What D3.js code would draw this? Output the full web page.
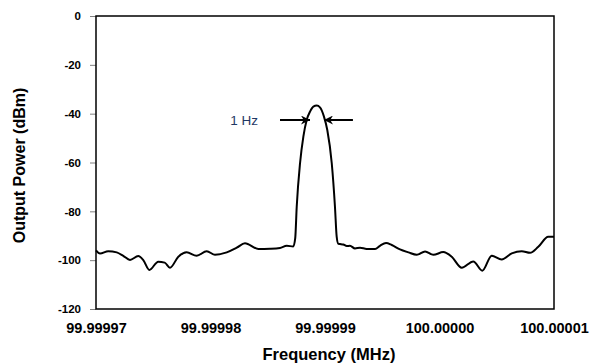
<!DOCTYPE html>
<html>
<head>
<meta charset="utf-8">
<script src="https://cdn.jsdelivr.net/npm/d3@7"></script>
<style>
  body { margin: 0; background: #fff; }
</style>
</head>
<body>
<div id="spectrum_chart"></div>
<script>
// frequency offset from 100 MHz in Hz, and measured power in dBm
var freqOffsetHz = [-30.00, -29.65, -28.93, -28.19, -27.62, -27.03, -26.31, -25.87, -25.34, -24.56,
  -24.00, -23.54, -22.81, -22.08, -21.21, -20.33, -19.61, -18.58, -17.71, -16.99,
  -15.82, -14.80, -13.93, -13.34, -12.77, -12.60, -12.47, -12.18, -11.89, -11.60,
  -11.31, -11.02, -10.72, -10.44, -10.09, -9.80, -9.41, -9.13, -8.98, -8.84,
  -8.69, -8.40, -8.10, -7.82, -7.38, -6.94, -6.36, -5.63, -5.20, -4.67,
  -4.17, -3.45, -2.72, -1.99, -1.26, -0.54, 0.33, 1.07, 1.94, 2.95,
  3.74, 4.56, 5.43, 6.31, 7.18, 7.91, 8.63, 9.50, 10.00];
var powerDbm = [-96.0, -97.3, -96.3, -96.8, -98.2, -99.9, -98.3, -100.0, -104.0, -100.6,
  -101.0, -103.1, -98.6, -96.8, -98.2, -96.3, -97.8, -96.8, -94.9, -93.1,
  -95.4, -95.3, -95.0, -94.1, -94.4, -91.0, -78.1, -60.3, -49.4, -42.6,
  -39.2, -37.1, -36.7, -37.4, -41.2, -46.7, -60.3, -78.1, -90.4, -93.3,
  -93.4, -93.6, -94.2, -94.1, -95.2, -94.9, -95.4, -95.4, -94.1, -93.0,
  -93.8, -95.6, -96.8, -97.8, -96.4, -97.8, -96.7, -98.6, -103.1, -100.5,
  -104.3, -98.2, -99.7, -97.2, -96.3, -97.0, -94.5, -90.4, -90.4];

var xTicks = [-30, -20, -10, 0, 10];
var yTicks = [0, -20, -40, -60, -80, -100, -120];

// linewidth annotation: arrows [from, to] in Hz at a given level
var arrowLevel = -42.6;
var arrowLeft = [-13.93, -11.31];
var arrowRight = [-7.56, -10.09];
var arrowLabel = "1 Hz";

var width = 590, height = 364;
var margin = {top: 16, right: 36, bottom: 55, left: 96};

var svg = d3.select("#spectrum_chart")
  .append("svg")
    .attr("width", width)
    .attr("height", height);

var x = d3.scaleLinear()
  .domain([-30, 10])
  .range([margin.left, width - margin.right]);

var y = d3.scaleLinear()
  .domain([-120, 0])
  .range([height - margin.bottom, margin.top]);

// y axis ticks and labels (plain hyphen as minus, like the original)
var yAxis = svg.append("g")
  .attr("transform", "translate(" + margin.left + ",0)")
  .call(d3.axisLeft(y).tickValues(yTicks).tickSize(6).tickPadding(9)
    .tickFormat(function(d) { return String(d); }));
yAxis.select(".domain").remove();
yAxis.selectAll("line").attr("stroke", "#808080");
yAxis.selectAll("text")
  .attr("fill", "#000")
  .style("font-family", "'Liberation Sans', Arial, sans-serif")
  .style("font-weight", "bold")
  .style("font-size", "11.5px");

// x axis labels only
var xAxis = svg.append("g")
  .attr("transform", "translate(0," + (height - margin.bottom) + ")")
  .call(d3.axisBottom(x).tickValues(xTicks).tickSize(0).tickPadding(14)
    .tickFormat(function(d) { return (100 + d * 1e-6).toFixed(5); }));
xAxis.select(".domain").remove();
xAxis.selectAll("text")
  .attr("fill", "#000")
  .style("font-family", "'Liberation Sans', Arial, sans-serif")
  .style("font-weight", "bold")
  .style("font-size", "14.5px");

// plot area border
svg.append("rect")
  .attr("x", x(-30))
  .attr("y", y(0))
  .attr("width", x(10) - x(-30))
  .attr("height", y(-120) - y(0))
  .attr("fill", "none")
  .attr("stroke", "#000")
  .attr("stroke-width", 1.5);

// axis titles
svg.append("text")
  .attr("text-anchor", "middle")
  .attr("x", (x(-30) + x(10)) / 2 + 4)
  .attr("y", 360)
  .style("font-family", "'Liberation Sans', Arial, sans-serif")
  .style("font-weight", "bold")
  .style("font-size", "16.5px")
  .text("Frequency (MHz)");

svg.append("text")
  .attr("text-anchor", "middle")
  .attr("transform", "translate(25," + ((y(0) + y(-120)) / 2 + 3) + ") rotate(-90)")
  .style("font-family", "'Liberation Sans', Arial, sans-serif")
  .style("font-weight", "bold")
  .style("font-size", "16px")
  .text("Output Power (dBm)");

// spectrum line
var points = freqOffsetHz.map(function(f, i) { return [f, powerDbm[i]]; });
svg.append("path")
  .datum(points)
  .attr("fill", "none")
  .attr("stroke", "#000")
  .attr("stroke-width", 2)
  .attr("stroke-linejoin", "round")
  .attr("d", d3.line()
    .curve(d3.curveMonotoneX)
    .x(function(d) { return x(d[0]); })
    .y(function(d) { return y(d[1]); })
  );

// arrow markers
svg.append("defs").append("marker")
  .attr("id", "arrowhead")
  .attr("viewBox", "0 0 10 10")
  .attr("refX", 10)
  .attr("refY", 5)
  .attr("markerWidth", 4.5)
  .attr("markerHeight", 4.5)
  .attr("orient", "auto")
  .append("path")
    .attr("d", "M0,0 L10,5 L0,10 L3,5 Z")
    .attr("fill", "#000");

[arrowLeft, arrowRight].forEach(function(a) {
  svg.append("line")
    .attr("x1", x(a[0]))
    .attr("x2", x(a[1]))
    .attr("y1", y(arrowLevel))
    .attr("y2", y(arrowLevel))
    .attr("stroke", "#000")
    .attr("stroke-width", 2)
    .attr("marker-end", "url(#arrowhead)");
});

svg.append("text")
  .attr("x", x(arrowLeft[0]) - 22)
  .attr("y", y(arrowLevel) + 5)
  .attr("text-anchor", "end")
  .attr("fill", "#1f3864")
  .style("font-family", "'Liberation Sans', Arial, sans-serif")
  .style("font-size", "13.5px")
  .text(arrowLabel);
</script>
</body>
</html>
